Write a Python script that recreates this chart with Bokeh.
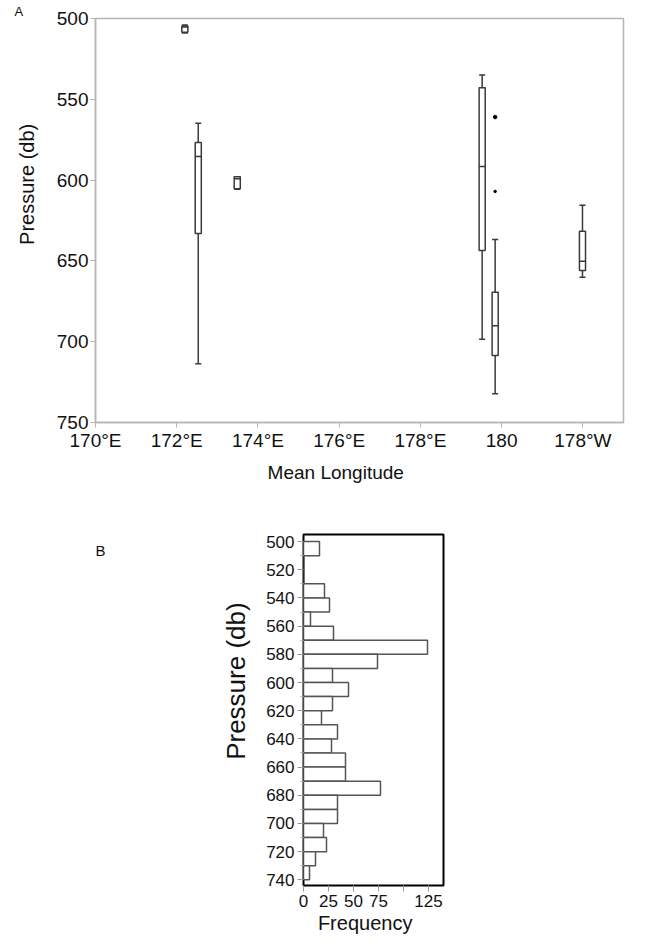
from bokeh.plotting import figure
from bokeh.models import Range1d, FixedTicker, ColumnDataSource, Title, LinearAxis
from bokeh.layouts import column
from bokeh.embed import file_html
from bokeh.resources import INLINE

FONT = "Liberation Sans"
NB = "\u00a0"

# ---- Panel A: box plots of pressure by mean longitude ----
box_lon = [172.2, 172.53, 173.49, 179.52, 179.84, 181.99]
whisk_lo = [504.0, 564.8, 598.0, 535.0, 636.8, 615.5]
box_q1 = [504.6, 576.7, 598.0, 542.9, 669.4, 631.6]
box_med = [505.3, 585.4, 599.2, 591.6, 690.2, 650.2]
box_q3 = [508.5, 633.0, 605.4, 643.6, 708.5, 655.9]
whisk_hi = [509.0, 713.7, 605.6, 698.5, 732.2, 660.1]
outlier_lon = [179.84, 179.84]
outlier_p = [561.0, 607.0]
outlier_size = [3.5, 2.5]

lon_ticks = [170, 172, 174, 176, 178, 180, 182]
lon_labels = ["170°E", "172°E", "174°E", "176°E", "178°E", "180", "178°W"]
p_ticks_a = [500, 550, 600, 650, 700, 750]

# ---- Panel B: histogram of pressure ----
bin_start = [500, 510, 520, 530, 540, 550, 560, 570, 580, 590, 600, 610,
             620, 630, 640, 650, 660, 670, 680, 690, 700, 710, 720, 730]
freq = [16, 0, 0, 21, 26, 7, 30, 124, 74, 29, 45, 29,
        18, 34, 28, 42, 42, 77, 34, 34, 20, 23, 12, 6]
bin_width = 10
p_ticks_b = [500, 520, 540, 560, 580, 600, 620, 640, 660, 680, 700, 720, 740]
freq_ticks = [0, 25, 50, 75, 100, 125]
freq_labels = ["0", "25", "50", "75", "", "125"]
panel_b_tick = 506

BOXW = 0.15
BOX_COLOR = "#3a3a3a"
AX_GRAY = "#b5b5b5"

p1 = figure(width=652, height=490, x_range=Range1d(170, 183), y_range=Range1d(750, 500),
            output_backend="svg", toolbar_location=None, frame_align=False,
            min_border_left=95, min_border_right=29, min_border_top=18, min_border_bottom=68)
p1.grid.visible = False
p1.outline_line_color = AX_GRAY
p1.outline_line_width = 1.5
p1.background_fill_color = "white"
p1.border_fill_color = "white"

src = ColumnDataSource(dict(
    lon=box_lon, wlo=whisk_lo, q1=box_q1, med=box_med, q3=box_q3, whi=whisk_hi,
    left=[v - BOXW / 2 for v in box_lon], right=[v + BOXW / 2 for v in box_lon],
))
p1.segment(x0="lon", y0="wlo", x1="lon", y1="q1", source=src, line_color=BOX_COLOR, line_width=1.5)
p1.segment(x0="lon", y0="q3", x1="lon", y1="whi", source=src, line_color=BOX_COLOR, line_width=1.5)
p1.segment(x0="left", y0="wlo", x1="right", y1="wlo", source=src, line_color=BOX_COLOR, line_width=1.5)
p1.segment(x0="left", y0="whi", x1="right", y1="whi", source=src, line_color=BOX_COLOR, line_width=1.5)
p1.vbar(x="lon", width=BOXW, top="q1", bottom="q3", source=src,
        fill_color="white", line_color=BOX_COLOR, line_width=1.5)
p1.segment(x0="left", y0="med", x1="right", y1="med", source=src, line_color=BOX_COLOR, line_width=1.5)
p1.scatter(outlier_lon, outlier_p, size=outlier_size, color="black")

p1.xaxis.ticker = FixedTicker(ticks=lon_ticks)
p1.xaxis.major_label_overrides = {t: l for t, l in zip(lon_ticks, lon_labels)}
p1.yaxis.ticker = FixedTicker(ticks=p_ticks_a)
p1.xaxis.axis_label = "Mean Longitude" + NB * 9
p1.yaxis.axis_label = NB * 13 + "Pressure (db)"
for ax in (p1.xaxis[0], p1.yaxis[0]):
    ax.axis_line_color = AX_GRAY
    ax.axis_line_width = 1.5
    ax.major_tick_line_color = AX_GRAY
    ax.major_tick_in = 0
    ax.major_tick_out = 5
    ax.minor_tick_line_color = None
    ax.major_label_text_font = FONT
    ax.major_label_text_font_size = "19px"
    ax.major_label_text_color = "#111111"
    ax.axis_label_text_font = FONT
    ax.axis_label_text_font_style = "normal"
    ax.axis_label_text_color = "#111111"
    ax.major_label_standoff = 2
p1.xaxis.axis_label_text_font_size = "19px"
p1.yaxis.axis_label_text_font_size = "20px"
p1.xaxis.axis_label_standoff = 8
p1.yaxis.axis_label_standoff = 16

# panel letter "A"
p1.add_layout(Title(text="A", align="left", offset=-81, standoff=0,
                    vertical_align="bottom", text_baseline="top",
                    text_font=FONT, text_font_size="13px", text_font_style="normal",
                    text_color="#111111"), "above")

# ---- Panel B figure ----
p2 = figure(width=652, height=452, x_range=Range1d(0, 140), y_range=Range1d(744, 495),
            output_backend="svg", toolbar_location=None, frame_align=False,
            min_border_left=303, min_border_right=209, min_border_top=44, min_border_bottom=57)
p2.grid.visible = False
p2.outline_line_color = "black"
p2.outline_line_width = 2
p2.border_fill_color = "white"

hsrc = ColumnDataSource(dict(y=[b + bin_width / 2 for b in bin_start], right=freq))
p2.hbar(y="y", left=0, right="right", height=bin_width, source=hsrc,
        fill_color="white", line_color="#555555", line_width=1.5)

p2.yaxis.ticker = FixedTicker(ticks=p_ticks_b, minor_ticks=[b + bin_width for b in p_ticks_b[:-1]])
p2.xaxis.ticker = FixedTicker(ticks=freq_ticks)
p2.xaxis.major_label_overrides = {t: l for t, l in zip(freq_ticks, freq_labels)}
p2.xaxis.axis_label = "Frequency" + NB * 3
p2.yaxis.axis_label = NB * 8 + "Pressure (db)"
for ax in (p2.xaxis[0], p2.yaxis[0]):
    ax.axis_line_color = None
    ax.major_tick_line_color = "#999999"
    ax.major_tick_in = 0
    ax.major_tick_out = 6
    ax.major_label_text_font = FONT
    ax.major_label_text_font_size = "17px"
    ax.major_label_text_color = "#111111"
    ax.axis_label_text_font = FONT
    ax.axis_label_text_font_style = "normal"
    ax.axis_label_text_color = "#111111"
    ax.major_label_standoff = 3
p2.xaxis.minor_tick_line_color = None
p2.yaxis.minor_tick_line_color = "#aaaaaa"
p2.yaxis.minor_tick_in = 0
p2.yaxis.minor_tick_out = 3
p2.xaxis.axis_label_text_font_size = "20px"
p2.yaxis.axis_label_text_font_size = "26px"
p2.xaxis.axis_label_standoff = 2
p2.yaxis.axis_label_standoff = 12

# panel letter "B" carried by an outer, line-less axis
b_axis = LinearAxis(ticker=FixedTicker(ticks=[panel_b_tick]),
                    major_label_overrides={panel_b_tick: "B"},
                    axis_line_color=None, major_tick_line_color=None,
                    minor_tick_line_color=None, major_tick_out=0, major_tick_in=0,
                    major_label_standoff=113,
                    major_label_text_font=FONT, major_label_text_font_size="15px",
                    major_label_text_color="#111111")
p2.add_layout(b_axis, "left")

layout = column(p1, p2, spacing=0)
open("out.html", "w").write(file_html(layout, INLINE))
